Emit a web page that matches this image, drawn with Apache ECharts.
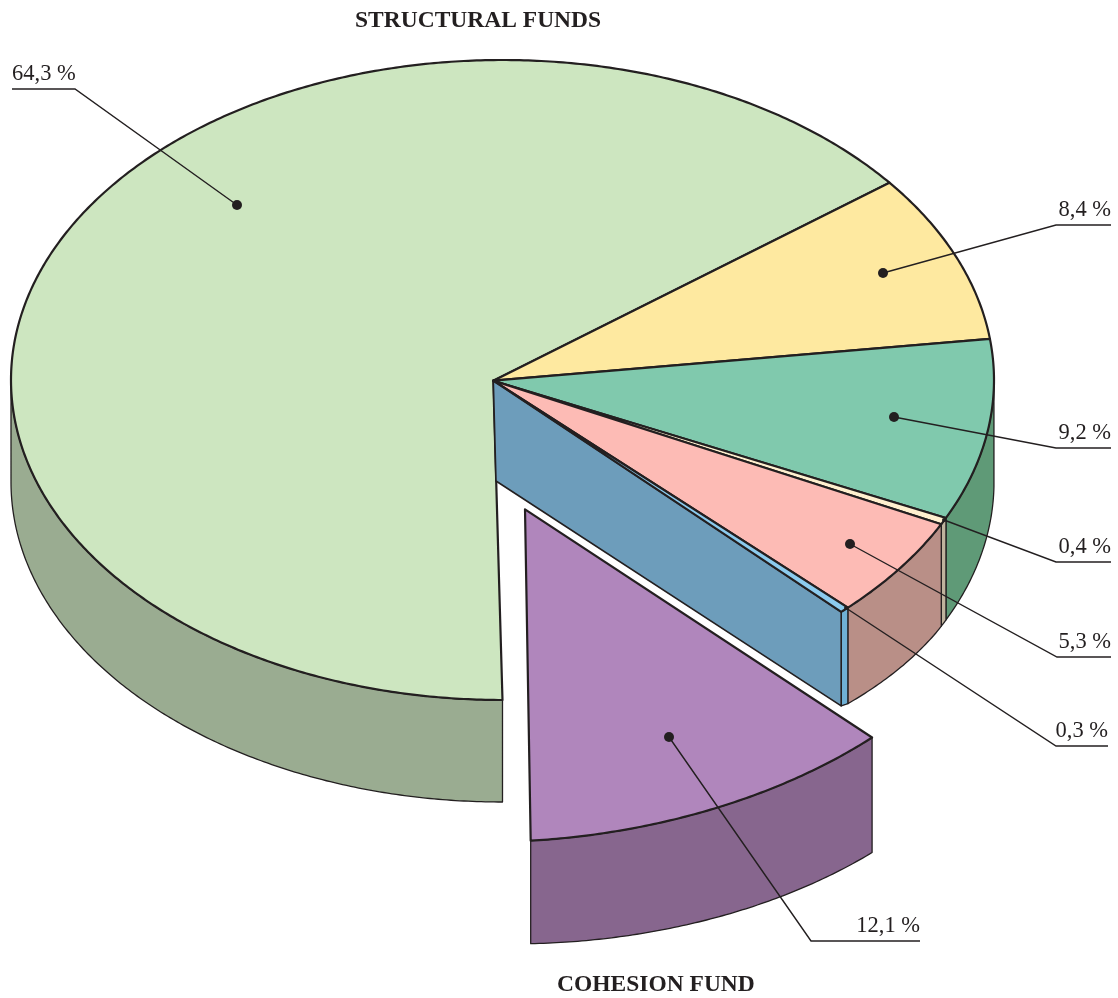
<!DOCTYPE html>
<html>
<head>
<meta charset="utf-8">
<style>html,body{margin:0;padding:0;background:#fff}#c{width:1118px;height:998px}</style>
<script src="https://cdn.jsdelivr.net/npm/echarts@6/dist/echarts.min.js"></script>
</head>
<body>
<div id="c"></div>
<script>
// ---- data ----
var shareValues = [64.3, 8.4, 9.2, 0.4, 5.3, 0.3, 12.1];
var shareLabels = ['64,3 %', '8,4 %', '9,2 %', '0,4 %', '5,3 %', '0,3 %', '12,1 %'];
var groupTitles = ['STRUCTURAL FUNDS', 'COHESION FUND'];

// ---- styles ----
var topColors  = ['#cde6c0', '#fee9a0', '#80c9ad', '#fff0cf', '#fdbbb5', '#8ccbee', '#b086bc'];
var wallColors = ['#9aac91', '#c4b47e', '#5f9a77', '#bfb39d', '#b98f87', '#6fb0d5', '#87668e'];
var cutFaceColor = '#6d9dbb';
var ink = '#231f20';

// ---- layout: ellipse projection of the pie ----
var START_DEG = 180;
var mainDisc = {cx: 502.5, cy: 380, rx: 491.5, ry: 320, shear: 0, d0: 102, dSlope: 0,
                apex: [493.3, 380.7],
                // the drawing's hand-made perspective: [degrees, correction]
                angleWarp: [[0, 0], [51.48, 0.45], [81.72, 0.9], [114.84, 0.7], [116.28, 0.5], [135.36, 0], [360, 0]],
                depthWarp: [[0, 102], [118, 102], [125, 100], [135.4, 96], [136.4, 94], [180, 102], [360, 102]]};
var explodedDisc = {cx: 530.7, cy: 537.4, rx: 495.4, ry: 303.3, shear: -0.0576, d0: 103, dSlope: 0.0351,
                apex: [525, 509.3]};
var cutBottomApex = [496, 481];
var explodedIndex = 6, cutFaceIndex = 5;

// ---- layout: leader lines (anchor, elbow, end), dot radius ----
var leaderPaths = [
  [[237, 205], [75, 89], [12, 89]],
  [[883, 273], [1056, 225], [1111, 225]],
  [[894, 417], [1056, 448], [1111, 448]],
  [[944, 520], [1056, 562], [1111, 562]],
  [[850, 544], [1057, 657], [1111, 657]],
  [[846, 608], [1056, 746], [1108, 746]],
  [[669, 737], [811, 941], [920, 941]]
];
var dotRadius = [5, 5, 5, 2, 5, 2, 5];

var TOTAL = shareValues.reduce(function (a, b) { return a + b; }, 0);
var spans = [], acc = START_DEG;
shareValues.forEach(function (v) {
  var a = v / TOTAL * 360;
  spans.push([acc, acc + a]);
  acc += a;
});

function lookup(table, deg) {
  var a = ((deg % 360) + 360) % 360;
  for (var i = 1; i < table.length; i++) {
    if (a <= table[i][0]) {
      var p = table[i - 1], q = table[i];
      return p[1] + (q[1] - p[1]) * (a - p[0]) / (q[0] - p[0]);
    }
  }
  return table[table.length - 1][1];
}
function pt(d, deg, drop) {
  var shown = d.angleWarp ? deg + lookup(d.angleWarp, deg) : deg;
  var t = shown * Math.PI / 180, s = Math.sin(t), c = Math.cos(t);
  var x = d.cx + d.rx * s;
  var y = d.cy - d.ry * c + d.shear * d.rx * s;
  if (drop) y += (d.depthWarp ? lookup(d.depthWarp, deg) : d.d0) + d.dSlope * (x - d.cx);
  return [x, y];
}
function arc(d, a0, a1, drop) {
  var n = Math.max(2, Math.ceil(Math.abs(a1 - a0) * 2)), out = [];
  for (var i = 0; i <= n; i++) out.push(pt(d, a0 + (a1 - a0) * i / n, drop));
  return out;
}

function renderSlice(params, api) {
  var i = api.value(0);
  var d = i === explodedIndex ? explodedDisc : mainDisc;
  var a0 = spans[i][0], a1 = spans[i][1];
  var kids = [];
  // visible outer wall: front half of the disc, 90..270 degrees (mod 360)
  var ranges = [[90, 270], [450, 630]];
  ranges.forEach(function (r) {
    var w0 = Math.max(a0, r[0]), w1 = Math.min(a1, r[1]);
    if (w1 > w0) {
      var topEdge = arc(d, w0, w1, false);
      var botEdge = arc(d, w1, w0, true);
      kids.push({type: 'polygon', shape: {points: topEdge.concat(botEdge)},
        style: {fill: wallColors[i], stroke: ink, lineWidth: 1.3, lineJoin: 'round'}});
    }
  });
  // cut face revealed by the exploded slice
  if (i === cutFaceIndex) {
    kids.push({type: 'polygon',
      shape: {points: [d.apex, cutBottomApex, pt(d, a1, true), pt(d, a1, false)]},
      style: {fill: cutFaceColor, stroke: ink, lineWidth: 1.6, lineJoin: 'round'}});
  }
  // top face
  kids.push({type: 'polygon',
    shape: {points: [d.apex].concat(arc(d, a0, a1, false))},
    style: {fill: topColors[i], stroke: ink, lineWidth: 2.2, lineJoin: 'round'}});
  return {type: 'group', children: kids};
}

function renderLeader(params, api) {
  var i = api.value(0);
  var p = leaderPaths[i];
  var end = p[2], elbow = p[1];
  var leftLabel = end[0] < elbow[0] && end[0] < 100;
  return {type: 'group', children: [
    {type: 'polyline', shape: {points: p},
      style: {fill: 'none', stroke: ink, lineWidth: 1.4, lineJoin: 'miter'}},
    {type: 'circle', shape: {cx: p[0][0], cy: p[0][1], r: dotRadius[i]},
      style: {fill: ink, stroke: null}},
    {type: 'text',
      style: {
        text: shareLabels[i],
        x: end[0],
        y: end[1] - 3,
        align: leftLabel ? 'left' : 'right',
        verticalAlign: 'bottom',
        fill: ink,
        font: '22.5px "Liberation Serif", serif'
      }}
  ]};
}

var indexData = shareValues.map(function (v, i) { return [i, v]; });
var chart = echarts.init(document.getElementById('c'), null, {renderer: 'canvas'});
chart.setOption({
  animation: false,
  backgroundColor: '#ffffff',
  title: [
    {text: groupTitles[0], left: 350, top: 4,
      textStyle: {fontFamily: '"Liberation Serif", serif', fontWeight: 'bold', fontSize: 23.5, color: ink}},
    {text: groupTitles[1], left: 552, top: 968,
      textStyle: {fontFamily: '"Liberation Serif", serif', fontWeight: 'bold', fontSize: 23.5, color: ink}}
  ],
  tooltip: {show: false},
  series: [
    {type: 'custom', name: 'slices', coordinateSystem: 'none', silent: true, clip: false, z: 2,
      data: indexData, renderItem: renderSlice},
    {type: 'custom', name: 'leaders', coordinateSystem: 'none', silent: true, clip: false, z: 3,
      data: indexData, renderItem: renderLeader}
  ]
});
</script>
</body>
</html>
